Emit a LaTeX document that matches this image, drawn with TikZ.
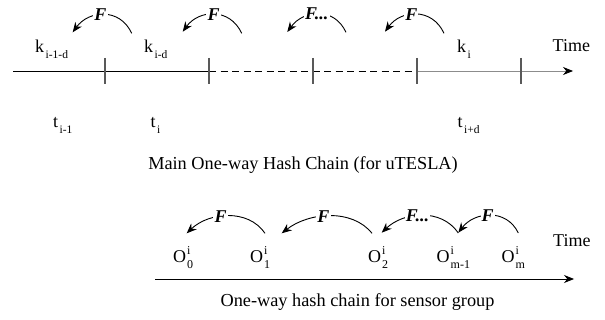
\documentclass[tikz,border=0pt]{standalone}
\usepackage{fontspec}
\setmainfont{Liberation Serif}
\usetikzlibrary{arrows.meta}
\newcommand\subl[1]{\kern1.5pt\raisebox{-6pt}{\fontsize{11.5}{12}\selectfont #1}}
\newcommand\oo[2]{O\kern1pt\rlap{\raisebox{8pt}{\fontsize{12}{12}\selectfont i}}\raisebox{-6pt}{\fontsize{12}{12}\selectfont #2}}
\begin{document}
\begin{tikzpicture}[x=1pt,y=-1pt,
  lbl/.style={inner sep=0pt, anchor=base west, font=\fontsize{18}{20}\selectfont},
  captxt/.style={inner sep=0pt, anchor=base, font=\fontsize{18.3}{20}\selectfont},
  fn/.style={fill=white, inner sep=1.2pt, font=\fontsize{18}{20}\selectfont\bfseries\itshape},
  hash/.style={line width=0.9pt, -{Stealth[length=10pt,width=8pt]}},
  tickmark/.style={draw=black!65, line width=1.2pt},
  axistip/.style={-{Stealth[length=10pt,width=8pt,color=black]}}]
\useasboundingbox (0,0) rectangle (605,320);

% ---------- top time line ----------
\coordinate (L0) at (13,71);
\coordinate (T1) at (105,71);
\coordinate (T2) at (209,71);
\coordinate (T3) at (313,71);
\coordinate (T4) at (417,71);
\coordinate (T5) at (521,71);
\coordinate (LE) at (573,71);
\draw[line width=0.9pt] (L0) -- (T2);
\draw[line width=0.9pt, dash pattern=on 7pt off 4.5pt] (T2) -- (T4);
\draw[draw=black!45, line width=0.8pt, axistip] (T4) -- (LE);
\foreach \t in {T1,T2,T3,T4,T5}
  \draw[tickmark] ([yshift=13pt]\t) -- ([yshift=-13pt]\t);

\node[lbl] (k1) at (35,53) {k\subl{i-1-d}};
\node[lbl] (k2) at (144,53) {k\subl{i-d}};
\node[lbl] (k3) at (457,53) {k\subl{i}};
\node[lbl] (time1) at (552.5,51.7) {Time};

\node[lbl] (t1) at (53,128) {t\subl{i-1}};
\node[lbl] (t2) at (150.5,128) {t\subl{i}};
\node[lbl] (t3) at (457.5,128) {t\subl{i+d}};

\node[captxt] (cap1) at (303,170) {Main One-way Hash Chain (for uTESLA)};

% top F arcs
\coordinate (a1s) at (131.7,33.3); \coordinate (a1e) at (72.7,32.3);
\coordinate (a2s) at (241.7,33.3); \coordinate (a2e) at (182.7,31.7);
\coordinate (a3s) at (346,32.3);   \coordinate (a3e) at (287.3,32);
\coordinate (a4s) at (444,33.3);   \coordinate (a4e) at (385,31.7);
\draw[hash] (a1s) .. controls +(-12,-26) and +(16,-22) .. (a1e) node[fn,pos=0.55] (f1) {F};
\draw[hash] (a2s) .. controls +(-12,-26) and +(16,-22) .. (a2e) node[fn,pos=0.50] (f2) {F};
\draw[hash] (a3s) .. controls +(-12,-26) and +(16,-22) .. (a3e) node[fn,pos=0.52] (f3) {F...};
\draw[hash] (a4s) .. controls +(-12,-26) and +(16,-22) .. (a4e) node[fn,pos=0.57] (f4) {F};

% ---------- bottom chain ----------
\coordinate (B0) at (155,279);
\coordinate (BE) at (574,279);
\draw[line width=0.9pt, axistip] (B0) -- (BE);

\node[lbl] (o0) at (173,263) {\oo{i}{0}};
\node[lbl] (o1) at (250,263) {\oo{i}{1}};
\node[lbl] (o2) at (368,263) {\oo{i}{2}};
\node[lbl] (o3) at (436.5,263) {\oo{i}{m-1}};
\node[lbl] (o4) at (501.5,263) {\oo{i}{m}};
\node[lbl] (time2) at (553,246.7) {Time};

\node[captxt] (cap2) at (357.5,306.5) {One-way hash chain for sensor group};

\coordinate (b1s) at (265,233.3); \coordinate (b1e) at (186.7,233.3);
\coordinate (b2s) at (372,233.3); \coordinate (b2e) at (281.7,233.3);
\coordinate (b3s) at (458.3,233); \coordinate (b3e) at (381.7,232.7);
\coordinate (b4s) at (518.3,233); \coordinate (b4e) at (458.3,232.7);
\draw[hash] (b1s) .. controls +(-17,-25) and +(22,-21) .. (b1e) node[fn,pos=0.58] (g1) {F};
\draw[hash] (b2s) .. controls +(-20,-25) and +(27,-21) .. (b2e) node[fn,pos=0.56] (g2) {F};
\draw[hash] (b3s) .. controls +(-17,-25) and +(22,-21) .. (b3e) node[fn,pos=0.55] (g3) {F...};
\draw[hash] (b4s) .. controls +(-12,-25) and +(16,-21) .. (b4e) node[fn,pos=0.53] (g4) {F};
\end{tikzpicture}
\end{document}
